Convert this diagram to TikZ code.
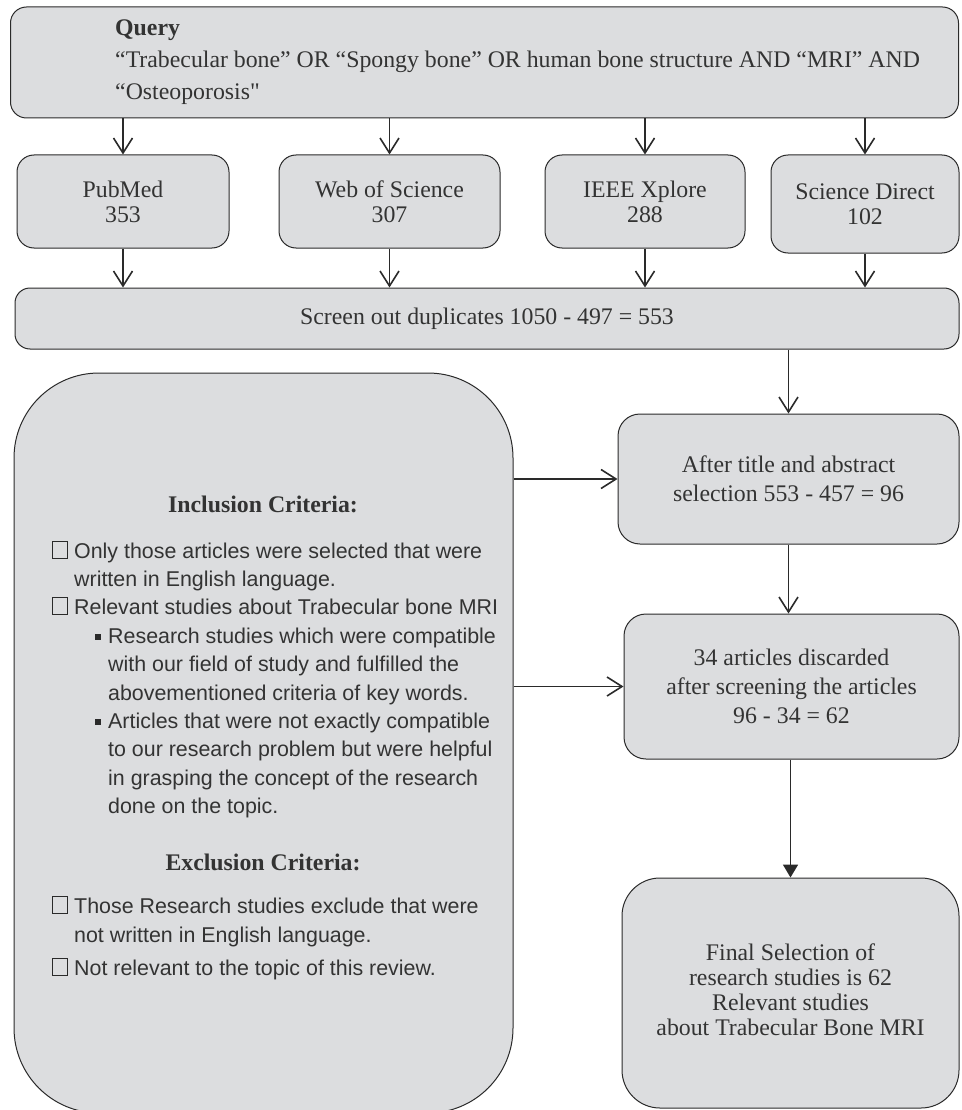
\documentclass[tikz,border=0pt]{standalone}
\usepackage{fontspec}
\setmainfont{Liberation Serif}
\setsansfont{Liberation Sans}
\newfontfamily\rawserif{Liberation Serif}
\usetikzlibrary{arrows.meta}
\definecolor{boxfill}{HTML}{DCDDDF}
\definecolor{ink}{HTML}{2A2A2A}
\definecolor{txt}{HTML}{333333}
\tikzset{
  rbox/.style={draw=ink, fill=boxfill, line width=1pt, rounded corners=#1,
    inner sep=0pt, text=txt, align=center},
  serif24/.style={font=\fontsize{23.8}{25}\selectfont},
  serif29/.style={font=\fontsize{23.8}{29}\selectfont},
  sansline/.style={anchor=base west, inner sep=0pt, text=txt, font=\sffamily\fontsize{21.4}{26}\selectfont},
  qline/.style={anchor=base west, inner sep=0pt, text=txt, font=\fontsize{23.8}{26}\selectfont},
  headline/.style={anchor=base, inner sep=0pt, text=txt, font=\bfseries\fontsize{23.8}{26}\selectfont},
  chk/.style={draw=ink, line width=0.7pt, minimum width=15pt, minimum height=17pt, inner sep=0pt},
  bul/.style={fill=ink, minimum size=6.5pt, inner sep=0pt},
  arr/.style={draw=ink, line width=1.8pt, -{Straight Barb[length=15pt,width=19pt,line width=1.6pt]}},
  farr/.style={draw=ink, line width=1.8pt, -{Triangle[length=13pt,width=15pt]}},
}
\begin{document}
\begin{tikzpicture}[x=1pt,y=-1pt]
\useasboundingbox (0,0) rectangle (961,1110);

% Query box
\node[rbox=16, minimum width=948pt, minimum height=111pt] (q) at (484.5,62.5) {};
\node[qline, font=\bfseries\fontsize{23.8}{26}\selectfont] (qh) at (115,36) {Query};
\node[qline] (q1) at (115,68) {``Trabecular bone'' OR ``Spongy bone'' OR human bone structure AND ``MRI'' AND};
\node[qline] (q2) at (115,100) {``Osteoporosis{\rawserif"}};

% Databases
\node[rbox=17, serif24, minimum width=212pt, minimum height=93pt] (pub) at (123,201.5) {PubMed\\353};
\node[rbox=17, serif24, minimum width=221pt, minimum height=93pt] (wos) at (389.5,201.5) {Web of Science\\307};
\node[rbox=17, serif24, minimum width=200pt, minimum height=93pt] (ieee) at (645,201.5) {IEEE Xplore\\288};
\node[rbox=17, serif24, minimum width=188pt, minimum height=98pt] (sd) at (865,204) {Science Direct\\102};

% Screen box
\node[rbox=15, serif24, minimum width=944pt, minimum height=61pt] (scr) at (487,318.5) {Screen out duplicates 1050 - 497 = 553};

% Left criteria box
\node[rbox=85, minimum width=499pt, minimum height=740pt] (L) at (263.5,743) {};
\node[headline] (inch) at (263,512) {Inclusion Criteria:};
\node[headline] (exch) at (263,870) {Exclusion Criteria:};

\node[sansline] (i1) at (74,558) {Only those articles were selected that were};
\node[sansline] (i2) at (74,586.4) {written in English language.};
\node[sansline] (i3) at (74,614.8) {Relevant studies about Trabecular bone MRI};
\node[sansline] (i4) at (108,643.2) {Research studies which were compatible};
\node[sansline] (i5) at (108,671.6) {with our field of study and fulfilled the};
\node[sansline] (i6) at (108,700) {abovementioned criteria of key words.};
\node[sansline] (i7) at (108,728.4) {Articles that were not exactly compatible};
\node[sansline] (i8) at (108,756.8) {to our research problem but were helpful};
\node[sansline] (i9) at (108,785.2) {in grasping the concept of the research};
\node[sansline] (i10) at (108,813.6) {done on the topic.};
\node[sansline] (e1) at (74,913) {Those Research studies exclude that were};
\node[sansline] (e2) at (74,942) {not written in English language.};
\node[sansline] (e3) at (74,975) {Not relevant to the topic of this review.};

\node[chk] (c1) at (59.5,549.5) {};
\node[chk] (c2) at (59.5,606.3) {};
\node[chk] (c3) at (59.5,904.5) {};
\node[chk] (c4) at (59.5,966.5) {};
\node[bul] (b1) at (98,637) {};
\node[bul] (b2) at (98,722.2) {};

% Right column
\node[rbox=22, serif29, minimum width=341pt, minimum height=130pt] (at) at (788.5,479) {After title and abstract\\selection 553 - 457 = 96};
\node[rbox=22, serif29, minimum width=335pt, minimum height=145pt] (dis) at (791.5,686.5) {34 articles discarded\\after screening the articles\\96 - 34 = 62};
\node[rbox=38, minimum width=337pt, minimum height=230pt] (fin) at (790.5,993) {};
\node[serif24, text=txt, align=center, inner sep=0pt] (fint) at (790.5,990) {Final Selection of\\research studies is 62\\Relevant studies\\about Trabecular Bone MRI};

% Connectors
\draw[arr] (pub.north |- q.south) -- (pub.north);
\draw[arr] (wos.north |- q.south) -- (wos.north);
\draw[arr] (ieee.north |- q.south) -- (ieee.north);
\draw[arr] (sd.north |- q.south) -- (sd.north);
\draw[arr] (pub.south) -- (pub.south |- scr.north);
\draw[arr] (wos.south) -- (wos.south |- scr.north);
\draw[arr] (ieee.south) -- (ieee.south |- scr.north);
\draw[arr] (sd.south) -- (sd.south |- scr.north);
\draw[arr] (at.north |- scr.south) -- (at.north);
\draw[arr] (at.south) -- (at.south |- dis.north);
\draw[farr] (fin.north |- dis.south) -- (fin.north);
\draw[arr] (L.east |- at.west) -- (at.west);
\draw[arr] (L.east |- dis.west) -- (dis.west);
\end{tikzpicture}
\end{document}
